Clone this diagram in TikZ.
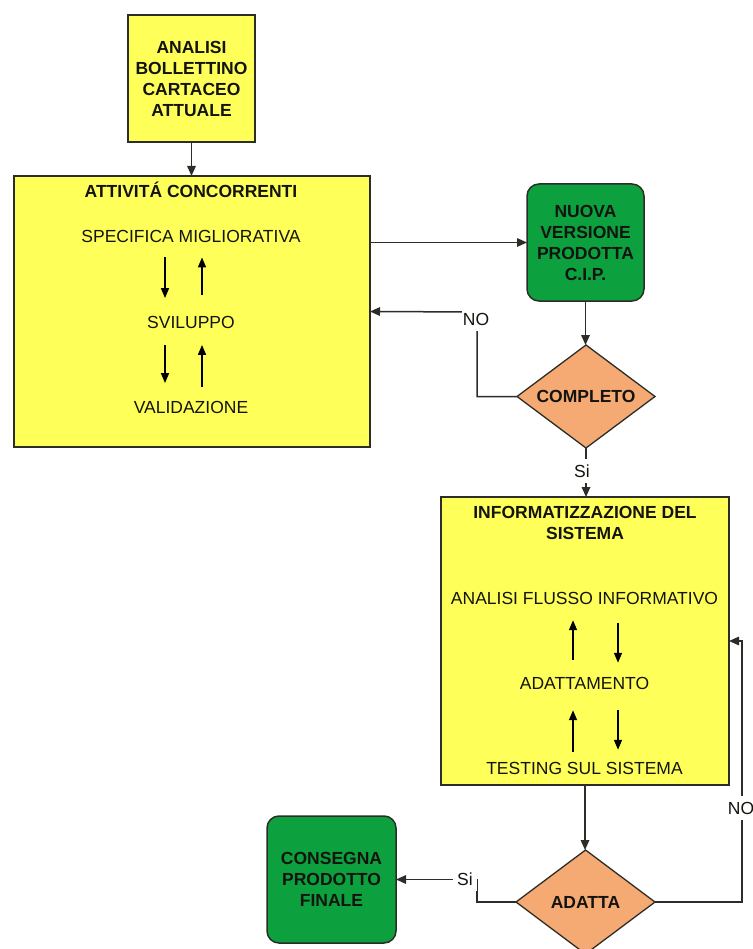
\documentclass[tikz,border=0pt]{standalone}
\usepackage{fontspec}
\setmainfont{Liberation Sans}
\usetikzlibrary{arrows.meta,shapes.geometric}
\definecolor{boxyellow}{RGB}{255,255,90}
\definecolor{boxgreen}{RGB}{12,160,62}
\definecolor{boxorange}{RGB}{246,170,115}
\definecolor{edgegray}{RGB}{45,45,40}
\definecolor{inktext}{RGB}{20,20,15}
\begin{document}
\begin{tikzpicture}[x=1pt,y=-1pt,
  txt/.style={font=\fontsize{17.5}{21}\selectfont, text=inktext, inner sep=0pt, align=center},
  bold/.style={txt, font=\fontsize{17.5}{21}\selectfont\bfseries},
  item/.style={txt, text height=12.5pt, text depth=0pt},
  ybox/.style={draw=edgegray, line width=1.5pt, fill=boxyellow, inner sep=0pt, outer sep=0pt},
  gbox/.style={bold, draw=edgegray, line width=1.5pt, fill=boxgreen, rounded corners=12pt, outer sep=0pt},
  decision/.style={bold, diamond, draw=edgegray, line width=1.3pt, fill=boxorange, outer sep=0pt, aspect=1.34},
  conn/.style={draw=edgegray, line width=1.5pt, -{Triangle[length=10pt,width=8.5pt]}},
  inarr/.style={draw=black, line width=1.6pt, -{Triangle[length=10pt,width=8pt]}},
  lbl/.style={txt, fill=white, text height=12.5pt, text depth=0pt, inner xsep=0.5pt, inner ysep=5.5pt},
]
\useasboundingbox (0,0) rectangle (752,949);
\clip (0,0) rectangle (752,949);
\fill[white] (0,0) rectangle (752,949);

% --- boxes ---
\node[ybox, bold, minimum width=127pt, minimum height=127pt] (analisi) at (191.5,78.5)
  {ANALISI\\BOLLETTINO\\CARTACEO\\ATTUALE};
\node[ybox, minimum width=356pt, minimum height=271pt] (conc) at (192,311.5) {};
\node[gbox, minimum width=117pt, minimum height=117pt] (nuova) at (585.5,242.5)
  {NUOVA\\VERSIONE\\PRODOTTA\\C.I.P.};
\node[decision, minimum width=138pt, minimum height=103pt] (comp) at (586,396.5) {COMPLETO};
\node[ybox, minimum width=288pt, minimum height=288pt] (info) at (585,641) {};
\node[decision, minimum width=139pt, minimum height=104pt] (adatta) at (585.5,902) {ADATTA};
\node[gbox, minimum width=129pt, minimum height=127pt] (cons) at (331.5,879.5)
  {CONSEGNA\\PRODOTTO\\FINALE};

% --- contents of the concurrent-activities box ---
\node[bold] (conctitle) at (191,190) {ATTIVITÁ CONCORRENTI};
\node[item] (spec) at (191,236) {SPECIFICA MIGLIORATIVA};
\node[item] (svil) at (191,322) {SVILUPPO};
\node[item] (val) at (191,407) {VALIDAZIONE};
\draw[inarr, shorten <=15pt, shorten >=17.5pt] ([xshift=-26pt]spec.south) -- ([xshift=-26pt]svil.north);
\draw[inarr, shorten <=20.5pt, shorten >=15pt] ([xshift=11pt]svil.north) -- ([xshift=11pt]spec.south);
\draw[inarr, shorten <=16.5pt, shorten >=17.5pt] ([xshift=-26pt]svil.south) -- ([xshift=-26pt]val.north);
\draw[inarr, shorten <=13.5pt, shorten >=16.5pt] ([xshift=11pt]val.north) -- ([xshift=11pt]svil.south);

% --- contents of the computerisation box ---
\node[bold] (infotitle) at (585,522.5) {INFORMATIZZAZIONE DEL\\SISTEMA};
\node[item] (flusso) at (584.5,598) {ANALISI FLUSSO INFORMATIVO};
\node[item] (adat) at (584.5,683) {ADATTAMENTO};
\node[item] (test) at (584.5,768) {TESTING SUL SISTEMA};
\draw[inarr, shorten <=16.75pt, shorten >=15.75pt] ([xshift=-11.5pt]adat.north) -- ([xshift=-11.5pt]flusso.south);
\draw[inarr, shorten <=18.75pt, shorten >=13.75pt] ([xshift=33.5pt]flusso.south) -- ([xshift=33.5pt]adat.north);
\draw[inarr, shorten <=9.75pt, shorten >=20.75pt] ([xshift=-11.5pt]test.north) -- ([xshift=-11.5pt]adat.south);
\draw[inarr, shorten <=20.75pt, shorten >=11.75pt] ([xshift=33.5pt]adat.south) -- ([xshift=33.5pt]test.north);

% --- connectors ---
\draw[conn] (analisi.south) -- (analisi.south |- conc.north);
\draw[conn] (conc.east |- nuova.west) -- (nuova.west);
\draw[conn] (nuova.south) -- (nuova.south |- comp.north);
\coordinate (noA) at (477,312);
\draw[conn] (comp.west) -| (noA) -- (conc.east);
\draw[conn] (comp.south) -- (comp.south |- info.north);
\draw[conn] (info.south) -- (info.south |- adatta.north);
\coordinate (noB) at (742,641);
\draw[conn] (adatta.east) -| (noB) -- (info.east);
\coordinate (siB) at (477,879.5);
\draw[conn] (adatta.west) -| (siB) -- (cons.east);

% --- connector labels ---
\node[lbl] (lblnoA) at (476,319) {NO};
\node[lbl] (lblsiA) at (582,471) {Si};
\node[lbl] (lblnoB) at (741,808) {NO};
\node[lbl, minimum width=24pt] (lblsiB) at (465,879) {Si};
\end{tikzpicture}
\end{document}
